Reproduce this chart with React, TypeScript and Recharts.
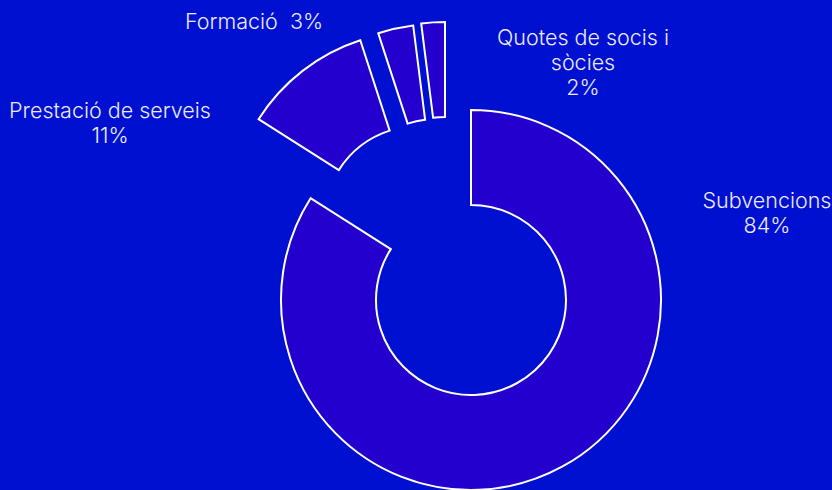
import { PieChart, Pie, Cell, Sector } from 'recharts'

const categories = ['Subvencions', 'Prestació de serveis', 'Formació', 'Quotes de socis i sòcies']
const values = [84, 11, 3, 2]
const labelLines = [['Subvencions', '84%'], ['Prestació de serveis', '11%'], ['Formació  3%'], ['Quotes de socis i', 'sòcies', '2%']]

const data = categories.map((name, i) => ({ name, value: values[i], lines: labelLines[i] }))

// exploded slices: shift of the sector centre
const explode: Record<string, [number, number]> = {
    'Prestació de serveis': [-52, -79],
    'Formació': [-34, -86],
    'Quotes de socis i sòcies': [-26, -88],
}

// label anchor relative to the pie centre (first baseline)
const labelPos: Record<string, [number, number]> = {
    'Subvencions': [296, -92],
    'Prestació de serveis': [-361, -182],
    'Formació': [-217, -271],
    'Quotes de socis i sòcies': [112, -255],
}

const BG = '#0010D0'
const SLICE = '#2300CE'
const TEXT = '#ECEAFF'

const renderShape = (props: any) => {
    const name = props.payload?.name ?? props.name
    const [dx, dy] = explode[name] ?? [0, 0]
    return <Sector {...props} cx={props.cx + dx} cy={props.cy + dy} fill={SLICE} stroke="#fff" strokeWidth={2} />
}

const renderLabel = (props: any) => {
    const name = props.payload?.name ?? props.name
    const lines: string[] = props.payload?.lines ?? []
    const [dx, dy] = labelPos[name] ?? [0, 0]
    return (
        <text x={props.cx + dx} y={props.cy + dy} textAnchor="middle" fill={TEXT} fontSize={21.5} fontWeight={300}
            fontFamily="Inter, sans-serif" style={{ whiteSpace: 'pre' }}>
            {lines.map((l, i) => (
                <tspan key={i} x={props.cx + dx} dy={i === 0 ? 0 : 25}>{l}</tspan>
            ))}
        </text>
    )
}

export default function App() {
    return (
        <div style={{ width: 832, height: 490, background: BG }}>
            <style>{`body{margin:0}`}</style>
            <PieChart width={832} height={490}>
                <Pie data={data} dataKey="value" nameKey="name" cx={466} cy={295} innerRadius={95} outerRadius={190}
                    startAngle={90} endAngle={-270} isAnimationActive={false} shape={renderShape}
                    label={renderLabel} labelLine={false} stroke="#fff" strokeWidth={2}>
                    {data.map((d) => <Cell key={d.name} fill={SLICE} />)}
                </Pie>
            </PieChart>
        </div>
    )
}
